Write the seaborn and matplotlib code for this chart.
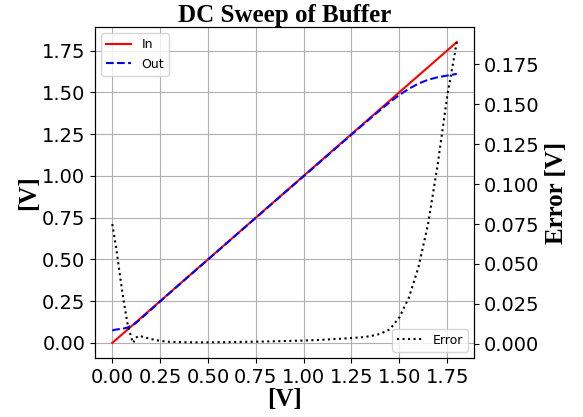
import matplotlib
matplotlib.use("Agg")
import matplotlib.pyplot as plt
from matplotlib.ticker import MultipleLocator, FormatStrFormatter
import seaborn as sns

# Sweep points (input voltage, V)
sweep_v = [0.00, 0.02, 0.04, 0.06, 0.08, 0.10, 0.11, 0.12, 0.14, 0.17, 0.20, 0.25,
           0.30, 0.40, 0.50, 0.60, 0.70, 0.80, 0.90, 1.00, 1.10, 1.20, 1.30, 1.35,
           1.40, 1.45, 1.50, 1.55, 1.60, 1.65, 1.70, 1.75, 1.80]
# Buffer output voltage (V)
out_v = [0.075, 0.0805, 0.083, 0.0865, 0.0925, 0.1035, 0.1095, 0.1165, 0.135, 0.166,
         0.197, 0.2482, 0.2988, 0.3991, 0.4991, 0.599, 0.6988, 0.7986, 0.8983, 0.998,
         1.0975, 1.1968, 1.296, 1.3452, 1.3938, 1.441, 1.4835, 1.521, 1.552, 1.575,
         1.590, 1.600, 1.61]
# Absolute error (V)
err_v = [0.075, 0.0605, 0.043, 0.0265, 0.0125, 0.0035, 0.0005, 0.0035, 0.005, 0.004,
         0.003, 0.0018, 0.0012, 0.0009, 0.0009, 0.001, 0.0012, 0.0014, 0.0017, 0.002,
         0.0025, 0.0032, 0.004, 0.0048, 0.0062, 0.009, 0.0165, 0.029, 0.048, 0.075,
         0.112, 0.155, 0.189]

fig = plt.figure(figsize=(5.83, 4.17), dpi=100)
ax1 = fig.add_axes([0.163, 0.1415, 0.650, 0.7935])
ax2 = ax1.twinx()

sns.lineplot(x=sweep_v, y=sweep_v, ax=ax1, color="red", linewidth=1.5, label="In")
sns.lineplot(x=sweep_v, y=out_v, ax=ax1, color="blue", linestyle="--", linewidth=1.5, label="Out")
sns.lineplot(x=sweep_v, y=err_v, ax=ax2, color="black", linestyle=":", linewidth=1.5, label="Error")

ax1.grid(True, color="#b0b0b0", linewidth=0.8)
ax1.set_axisbelow(True)

ax1.set_xticks([0, 0.25, 0.5, 0.75, 1.0, 1.25, 1.5, 1.75])
ax1.set_yticks([0, 0.25, 0.5, 0.75, 1.0, 1.25, 1.5, 1.75])
ax2.yaxis.set_major_locator(MultipleLocator(0.025))
ax2.yaxis.set_major_formatter(FormatStrFormatter("%.3f"))
ax1.tick_params(labelsize=14)
ax2.tick_params(labelsize=14)

serif = {"family": "Liberation Serif", "weight": "bold"}
ax1.set_title("DC Sweep of Buffer", fontdict={**serif, "size": 18}, pad=4)
ax1.set_xlabel("[V]", fontdict={**serif, "size": 18}, labelpad=1)
ax1.set_ylabel("[V]", fontdict={**serif, "size": 18}, labelpad=1)
ax2.set_ylabel("Error [V]", fontdict={**serif, "size": 18}, labelpad=4)

ax1.legend(loc="upper left", fontsize=9)
ax2.legend(loc="lower right", fontsize=9)

fig.savefig("out.png", dpi=100)
